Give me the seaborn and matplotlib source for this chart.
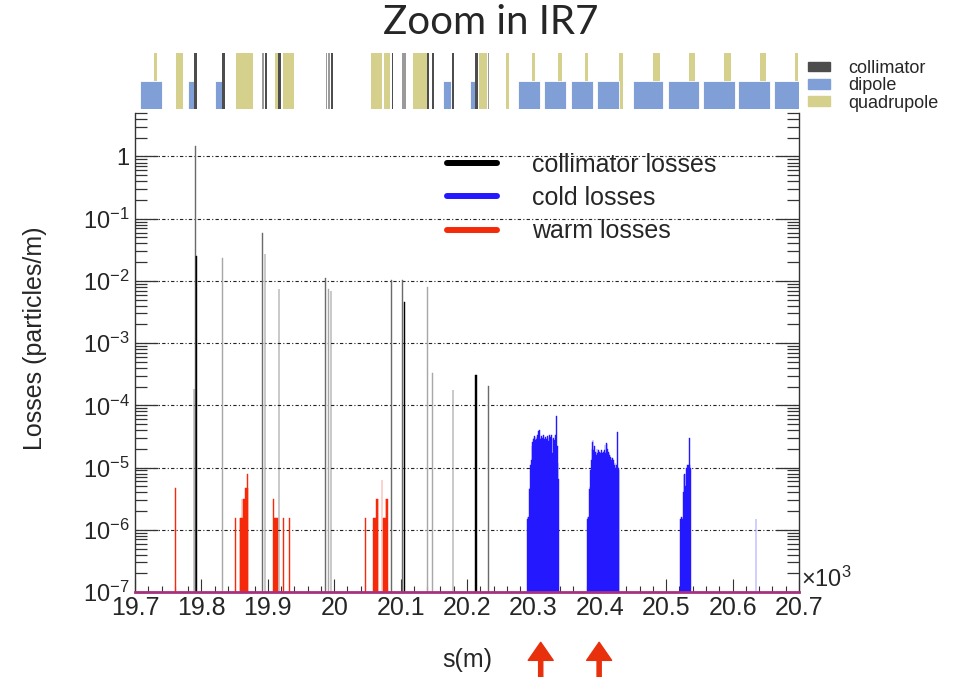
import numpy as np
import matplotlib
matplotlib.use("Agg")
import matplotlib.pyplot as plt
import seaborn as sns
from matplotlib.lines import Line2D
from matplotlib.patches import Patch
from matplotlib.ticker import MultipleLocator, FuncFormatter, LogLocator, NullFormatter

# ---------------- data ----------------
title = "Zoom in IR7"
x_label = "s(m)"
y_label = "Losses (particles/m)"
series_labels = ["collimator losses", "cold losses", "warm losses"]
element_labels = ["collimator", "dipole", "quadrupole"]

s_range = [19700, 20700]
y_range = [1e-7, 5.0]

# collimator losses, 1 m bins (bin centre in m, particles/m)
coll_black_s = [19789, 19792, 19793, 19896, 19917, 19995, 20106, 20179, 20213, 20214]
coll_black_loss = [1.8e-4, 2.5e-2, 2.5e-2, 2.7e-2, 7.5e-3, 6.8e-3, 4.5e-3, 1.74e-4, 3.1e-4, 3.1e-4]
coll_grey_s = [19791, 19892, 19987, 20086, 20103, 20232]
coll_grey_loss = [1.5, 5.9e-2, 1.1e-2, 1.02e-2, 1.02e-2, 2.05e-4]
coll_light_s = [19832, 19991, 20141, 20148]
coll_light_loss = [2.3e-2, 7.3e-3, 7.9e-3, 3.3e-4]

# warm losses, 1 m bins
warm_s = [19761, 19851,
          19858, 19859, 19860, 19861, 19862, 19863, 19864, 19865, 19866, 19867, 19868, 19869, 19870,
          19909, 19910, 19911, 19912, 19913, 19914, 19915,
          19924, 19933, 20047,
          20059, 20060, 20061, 20062, 20063, 20064, 20065, 20066,
          20072,
          20074, 20075, 20076, 20077, 20078, 20079, 20080]
warm_loss_e6 = [4.7, 1.55,
                1.55, 1.55, 1.55, 3.1, 1.55, 3.1, 3.1, 3.1, 4.7, 4.7, 4.7, 7.8, 4.7,
                3.1, 1.55, 1.55, 1.55, 1.55, 1.55, 1.55,
                1.55, 1.55, 1.55,
                1.55, 1.55, 1.55, 1.55, 1.55, 3.1, 3.1, 3.1,
                6.3,
                1.55, 1.55, 1.55, 1.55, 3.1, 3.1, 3.1]

# cold losses, consecutive 1 m bins starting at each block start (units 1e-5)
cold_block_start = [20291, 20381, 20522, 20635]
cold_block_1 = [0.15, 0.16, 0.16, 0.45, 0.47, 1.1, 1.3, 2.2, 2.6, 2.9, 3.0, 3.2, 2.8, 3.1, 2.9, 3.3,
                2.8, 3.9, 4.0, 3.0, 2.9, 3.2, 2.7, 3.0, 3.4, 2.6, 2.9, 3.1, 2.5, 2.9, 3.2, 3.0,
                2.7, 3.3, 2.8, 3.1, 3.4, 2.9, 1.7, 3.0, 2.6, 2.8, 3.3, 3.0, 6.8, 2.2, 1.2, 0.65]
cold_block_2 = [0.15, 0.16, 0.16, 0.45, 0.48, 0.9, 1.3, 2.0, 2.6, 2.8, 1.9, 2.2, 1.7, 1.8, 1.6, 2.0,
                1.7, 1.9, 1.6, 1.8, 1.7, 1.6, 1.9, 1.7, 1.6, 1.8, 1.9, 2.3, 1.7, 2.5, 2.4, 2.0,
                1.8, 1.7, 1.6, 1.5, 1.4, 1.3, 1.4, 1.2, 1.3, 1.1, 1.2, 1.0, 1.1, 1.1, 3.7, 1.0, 0.9]
cold_block_3 = [0.15, 0.16, 0.16, 0.15, 0.4, 0.75, 0.78, 0.5, 0.8, 1.0, 1.1, 0.9, 1.1, 3.0, 1.1, 1.0]
cold_block_4 = [0.15]

# beam-line elements (start, end in m)
quad_start = [19728.6, 19761.7, 19852, 19911, 19923, 20055, 20075.5, 20118, 20218.5, 20258.7,
              20298, 20337.5, 20377.7, 20429.4, 20480.6, 20534.8, 20587.5, 20641, 20694]
quad_end = [19733.5, 19772.7, 19877, 19916, 19940, 20071.5, 20084, 20140, 20229.6, 20263.7,
            20302, 20342.5, 20382.7, 20435.4, 20490.6, 20543.4, 20597.6, 20651, 20699]
dipole_start = [19707.5, 19780, 19820.5, 20164, 20204.5, 20277, 20316.4, 20356.6, 20396,
                20449.5, 20503, 20556, 20608.6, 20662]
dipole_end = [19740, 19790, 19830.5, 20175.5, 20214.5, 20310, 20349, 20389.3, 20428.4,
              20495.7, 20549.8, 20603.6, 20656.3, 20700]
coll_dark_start = [19789, 19831.5, 19896, 19916, 19995, 20086.5, 20140, 20146.7, 20178, 20212]
coll_dark_end = [19794, 19835, 19899, 19920, 19998, 20089, 20143, 20150, 20180, 20216]
coll_grey_start = [19891, 19987.6, 19991, 20102.5, 20231]
coll_grey_end = [19895, 19989.6, 19993.5, 20107.6, 20233.6]

arrow_s = [20311, 20399]

# ---------------- style ----------------
sns.set_theme(style="white")
plt.rcParams["font.family"] = ["Liberation Sans", "DejaVu Sans"]
plt.rcParams["mathtext.fontset"] = "custom"
plt.rcParams["mathtext.rm"] = "Liberation Sans"
plt.rcParams["mathtext.it"] = "Liberation Sans:italic"
plt.rcParams["mathtext.bf"] = "Liberation Sans:bold"

C_BLACK = "#000000"
C_GREY = "#6a6a6a"
C_LIGHT = "#a8a8a8"
C_BLUE = "#2418ff"
C_RED = "#f42a0a"
C_COLL = "#4d4d4d"
C_COLL2 = "#9a9a9a"
C_DIP = "#7f9fd6"
C_QUAD = "#d5d08c"

W, H = 966, 677
fig = plt.figure(figsize=(W / 100, H / 100), dpi=100, facecolor="white")
ax = fig.add_axes([135 / W, 1 - 592 / H, 664 / W, 479 / H])
ax_s = fig.add_axes([135 / W, 1 - 109 / H, 664 / W, 56.3 / H])


def hist(s, loss, color):
    sns.histplot(x=s, weights=loss, discrete=True, color=color, alpha=1,
                 linewidth=0.3, edgecolor=color, ax=ax)


cold_s, cold_loss = [], []
for start, block in zip(cold_block_start, [cold_block_1, cold_block_2, cold_block_3, cold_block_4]):
    cold_s += list(range(start, start + len(block)))
    cold_loss += [v * 1e-5 for v in block]

hist(coll_light_s, coll_light_loss, C_LIGHT)
hist(coll_grey_s, coll_grey_loss, C_GREY)
hist(coll_black_s, coll_black_loss, C_BLACK)
hist(warm_s, [v * 1e-6 for v in warm_loss_e6], C_RED)
hist(cold_s, cold_loss, C_BLUE)

ax.set_yscale("log")
ax.set_xlim(*s_range)
ax.set_ylim(*y_range)
ax.set_xlabel("")
ax.set_ylabel("")
ax.set_axisbelow(True)

ax.xaxis.set_major_locator(MultipleLocator(100))
ax.xaxis.set_minor_locator(MultipleLocator(20))
ax.xaxis.set_major_formatter(FuncFormatter(lambda v, p: f"{v / 1000:g}"))
ax.yaxis.set_major_locator(LogLocator(base=10, numticks=30))
ax.yaxis.set_minor_locator(LogLocator(base=10, subs=np.arange(2, 10), numticks=30))
ax.yaxis.set_minor_formatter(NullFormatter())


def yfmt(v, p):
    e = int(round(np.log10(v)))
    return "1" if e == 0 else r"$10^{%d}$" % e


ax.yaxis.set_major_formatter(FuncFormatter(yfmt))

tc = "#333333"
ax.tick_params(axis="x", which="major", direction="in", length=9.4, width=0.8, color=tc,
               labelsize=18, pad=3, top=False, bottom=True)
ax.tick_params(axis="x", which="minor", direction="in", length=4.5, width=0.8, color=tc,
               top=False, bottom=True)
ax.tick_params(axis="y", which="major", direction="in", length=16.5, width=0.9, color=tc,
               left=True, right=True, labelsize=17, pad=4)
ax.tick_params(axis="y", which="minor", direction="in", length=8.6, width=0.9, color=tc,
               left=True, right=True)

ax.grid(False)
ax.grid(True, axis="y", which="major", color="#222222", linestyle=(0, (3, 2, 1, 2)), linewidth=0.8)

ax.spines["top"].set_visible(False)
for side in ["left", "right"]:
    ax.spines[side].set_color(tc)
    ax.spines[side].set_linewidth(1.0)
ax.spines["bottom"].set_color("#a6327d")
ax.spines["bottom"].set_linewidth(2.0)
ax.spines["bottom"].set_zorder(5)

# legend for losses
handles = [Line2D([0], [0], color=C_BLACK, lw=4.3),
           Line2D([0], [0], color=C_BLUE, lw=4.3),
           Line2D([0], [0], color=C_RED, lw=4.3)]
ax.legend(handles, series_labels, loc="upper left", bbox_to_anchor=(0.47, 0.917), frameon=False,
          fontsize=18, handlelength=2.0, handletextpad=1.4, labelspacing=0.37,
          borderpad=0, borderaxespad=0)

ax.text(1.003, 0.0, r"$\times10^{3}$", transform=ax.transAxes, ha="left", va="bottom", fontsize=17)

# arrows
for s in arrow_s:
    ax.annotate("", xy=(s, -0.105), xytext=(s, -0.185), xycoords=ax.get_xaxis_transform(),
                textcoords=ax.get_xaxis_transform(), annotation_clip=False,
                arrowprops=dict(facecolor="#e8300c", edgecolor="#e8300c", width=3,
                                headwidth=18, headlength=13, shrink=0))

# ---------------- element strip ----------------
ax_s.bar(quad_start, 1.0, width=np.subtract(quad_end, quad_start), align="edge",
         color=C_QUAD, linewidth=0)
ax_s.bar(dipole_start, 0.5, width=np.subtract(dipole_end, dipole_start), align="edge",
         color=C_DIP, linewidth=0.6, edgecolor="white")
ax_s.bar(coll_grey_start, 1.0, width=np.subtract(coll_grey_end, coll_grey_start), align="edge",
         color=C_COLL2, linewidth=0)
ax_s.bar(coll_dark_start, 1.0, width=np.subtract(coll_dark_end, coll_dark_start), align="edge",
         color=C_COLL, linewidth=0)
ax_s.set_xlim(*s_range)
ax_s.set_ylim(0, 1)
ax_s.axis("off")
ax_s.legend(handles=[Patch(color=C_COLL), Patch(color=C_DIP), Patch(color=C_QUAD)],
            labels=element_labels, loc="center left", bbox_to_anchor=(1.0136, 0.41), frameon=False,
            fontsize=13, handlelength=1.2, handleheight=0.45, labelspacing=0.02,
            handletextpad=1.0, borderpad=0, borderaxespad=0)

# ---------------- texts ----------------
fig.text(491 / W, 1 - 22 / H, title, fontsize=29, family=["Lato", "DejaVu Sans"],
         ha="center", va="center")
fig.text(467 / W, 1 - 660 / H, x_label, fontsize=18, ha="center", va="center")
fig.text(35 / W, 1 - 338 / H, y_label, fontsize=18, rotation=90, ha="center", va="center")

fig.savefig("out.png", dpi=100, facecolor="white")
